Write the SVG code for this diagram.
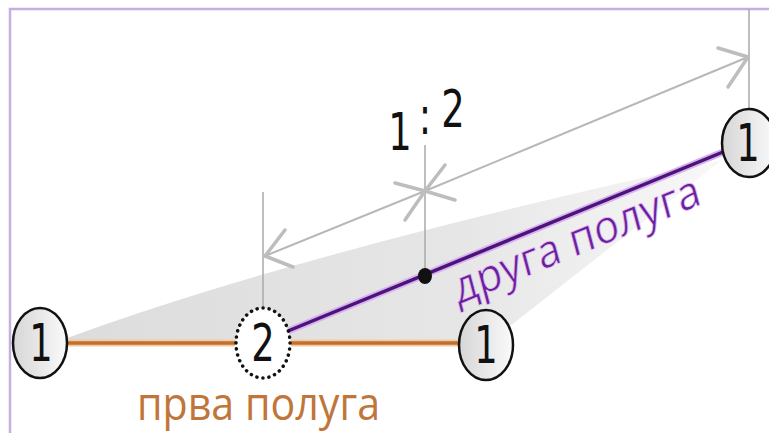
<svg xmlns="http://www.w3.org/2000/svg" width="769" height="433" viewBox="0 0 769 433">
<style>
.node{stroke:#111;stroke-width:2.5}
.num{font-family:"DejaVu Sans Condensed","DejaVu Sans","Open Sans",sans-serif;font-size:41px;fill:#111;text-anchor:middle}
.ext{stroke:#a8a8a8;stroke-width:1.5;fill:none}
.dim{stroke:#b8b8b8;stroke-width:2;fill:none}
.head{stroke:#bdbdbd;stroke-width:3.5;fill:none;stroke-linecap:round;stroke-linejoin:round}
.lbl{font-family:"Open Sans","Liberation Sans",sans-serif;font-size:37px}
</style>
<defs>
<linearGradient id="shade" x1="0" y1="0" x2="1" y2="0">
<stop offset="0" stop-color="#dcdcdc"/>
<stop offset="0.6" stop-color="#e6e6e6"/>
<stop offset="1" stop-color="#f8f8f8"/>
</linearGradient>
<linearGradient id="cfill" x1="0" y1="0" x2="1" y2="0">
<stop offset="0" stop-color="#d6d6d6"/>
<stop offset="1" stop-color="#fafafa"/>
</linearGradient>
</defs>
<rect width="769" height="433" fill="#fff"/>
<path d="M10,433 V9 H769" fill="none" stroke="#c4b0de" stroke-width="2.5"/>
<path d="M62,340 Q290,255 722,160 L510,326 L462,343 Z" fill="url(#shade)"/>
<g id="connectors">
<line x1="263" y1="192" x2="263" y2="308" class="ext"/>
<line x1="425" y1="145" x2="425" y2="276" class="ext"/>
<line x1="749" y1="9" x2="749" y2="109" class="ext"/>
<line x1="265" y1="256" x2="425" y2="191" class="dim"/>
<line x1="425" y1="191" x2="748" y2="57" class="dim"/>
<polyline points="285,230 265,256 293,267" class="head"/>
<polyline points="395,183 425,191 405,220" class="head"/>
<polyline points="445,165 425,191 455,200" class="head"/>
<polyline points="718,48 748,57 728,87" class="head"/>
<line x1="68" y1="343" x2="235" y2="343" stroke="#f2c9a0" stroke-width="7"/>
<line x1="291" y1="343" x2="458" y2="343" stroke="#f2c9a0" stroke-width="7"/>
<line x1="68" y1="343" x2="235" y2="343" stroke="#c0702c" stroke-width="3.5"/>
<line x1="291" y1="343" x2="458" y2="343" stroke="#c0702c" stroke-width="3.5"/>
<line x1="288" y1="331" x2="723" y2="152" stroke="#d9b0f0" stroke-width="7"/>
<line x1="288" y1="331" x2="723" y2="152" stroke="#4b1479" stroke-width="3.5"/>
<ellipse cx="425" cy="276" rx="7" ry="8" fill="#111"/>
</g>
<g id="n1">
<ellipse cx="40" cy="343" rx="27" ry="35" fill="url(#cfill)" class="node"/>
<text class="num" transform="translate(41,361) scale(1,1.25)">1</text>
</g>
<g id="n2">
<ellipse cx="263" cy="343" rx="27" ry="35" fill="#fff" stroke="#111" stroke-width="3.5" stroke-dasharray="0.1 6" stroke-linecap="round"/>
<text class="num" transform="translate(263,361) scale(1,1.25)">2</text>
</g>
<g id="n3">
<ellipse cx="486" cy="345" rx="27" ry="35" fill="url(#cfill)" class="node"/>
<text class="num" transform="translate(486,363) scale(1,1.25)">1</text>
</g>
<g id="n4">
<ellipse cx="749" cy="143" rx="27" ry="34" fill="url(#cfill)" class="node"/>
<text class="num" transform="translate(748,161) scale(1,1.25)">1</text>
</g>
<g id="ratio">
<text class="num" transform="translate(400,150) scale(1,1.25)">1</text>
<text class="num" transform="translate(425,134) scale(1,1.25)">:</text>
<text class="num" transform="translate(453,127) scale(1,1.25)">2</text>
</g>
<text class="lbl" fill="#c0763a" textLength="243" lengthAdjust="spacingAndGlyphs" transform="translate(137,420) scale(1,1.25)">прва полуга</text>
<text class="lbl" fill="#6b1f9e" stroke="#e6c8f5" stroke-width="0.6" textLength="258" lengthAdjust="spacingAndGlyphs" transform="translate(458,305) scale(1,1.25) rotate(-18.3)">друга полуга</text>
</svg>
